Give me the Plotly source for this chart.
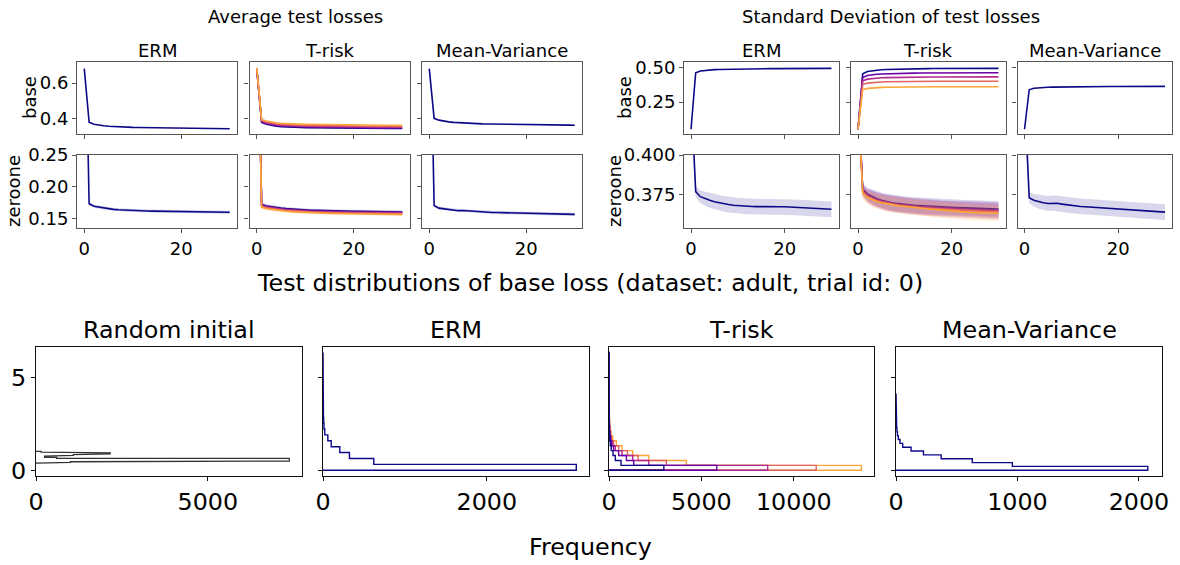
import plotly.graph_objects as go

W, H = 1180, 565
FONT = "DejaVu Sans"
PLASMA = ["#0d0887", "#6a00a8", "#b12a90", "#e16462", "#fca636"]
NAVY = PLASMA[0]

EPOCHS = list(range(31))
METHODS = ["ERM", "T-risk", "Mean-Variance"]

# ---- average test losses ----
ERM_AVG_BASE = [0.682, 0.377, 0.366, 0.360, 0.357, 0.354, 0.352, 0.351, 0.349, 0.348, 0.3475, 0.347, 0.3465, 0.346, 0.3455,
                0.345, 0.3447, 0.3443, 0.344, 0.3437, 0.3433, 0.343, 0.3427, 0.3424, 0.3421, 0.3418, 0.3415, 0.3412, 0.341, 0.3405, 0.340]
MV_AVG_BASE = [0.682, 0.399, 0.389, 0.383, 0.379, 0.376, 0.374, 0.372, 0.3705, 0.3695, 0.3685, 0.3677, 0.367, 0.3664, 0.3658,
               0.3653, 0.3648, 0.3644, 0.364, 0.3636, 0.3632, 0.3628, 0.3625, 0.3622, 0.3619, 0.3616, 0.3613, 0.361, 0.3607, 0.3604, 0.3601]
TR_AVG_BASE = [
    [0.680, 0.376, 0.365, 0.359, 0.355, 0.352, 0.350, 0.349, 0.348, 0.347, 0.3465, 0.346, 0.3455, 0.345, 0.3447, 0.3444,
     0.3441, 0.3438, 0.3435, 0.3432, 0.343, 0.3428, 0.3426, 0.3424, 0.3422, 0.342, 0.3418, 0.3416, 0.3414, 0.3412, 0.341],
    [0.681, 0.380, 0.369, 0.363, 0.359, 0.356, 0.354, 0.353, 0.352, 0.351, 0.3503, 0.3497, 0.3491, 0.3486, 0.3482, 0.3478,
     0.3474, 0.347, 0.3467, 0.3464, 0.3461, 0.3459, 0.3457, 0.3455, 0.3453, 0.3451, 0.3449, 0.3447, 0.3445, 0.3443, 0.3441],
    [0.683, 0.384, 0.373, 0.367, 0.363, 0.360, 0.358, 0.357, 0.356, 0.355, 0.3543, 0.3537, 0.3531, 0.3526, 0.3522, 0.3518,
     0.3514, 0.351, 0.3507, 0.3504, 0.3501, 0.3499, 0.3497, 0.3495, 0.3493, 0.3491, 0.3489, 0.3487, 0.3485, 0.3483, 0.3481],
    [0.685, 0.388, 0.378, 0.372, 0.368, 0.365, 0.363, 0.362, 0.361, 0.360, 0.3593, 0.3587, 0.3581, 0.3576, 0.3572, 0.3568,
     0.3564, 0.356, 0.3557, 0.3554, 0.3551, 0.3549, 0.3547, 0.3545, 0.3543, 0.3541, 0.3539, 0.3537, 0.3535, 0.3533, 0.3531],
    [0.687, 0.393, 0.384, 0.378, 0.374, 0.371, 0.369, 0.368, 0.367, 0.366, 0.3653, 0.3647, 0.3641, 0.3636, 0.3632, 0.3628,
     0.3624, 0.362, 0.3617, 0.3614, 0.3611, 0.3609, 0.3607, 0.3605, 0.3603, 0.3601, 0.3599, 0.3597, 0.3595, 0.3593, 0.3591],
]
ERM_AVG_ZO = [0.56, 0.173, 0.169, 0.1675, 0.166, 0.165, 0.164, 0.1635, 0.163, 0.1625, 0.162, 0.1618, 0.1616, 0.1615, 0.1613,
              0.1612, 0.1611, 0.161, 0.161, 0.1611, 0.1612, 0.161, 0.1608, 0.1605, 0.1603, 0.1601, 0.16, 0.1598, 0.1597, 0.1595, 0.1594]
MV_AVG_ZO = [0.56, 0.170, 0.166, 0.165, 0.164, 0.1625, 0.162, 0.1622, 0.1615, 0.161, 0.1605, 0.16, 0.1595, 0.1592, 0.159,
             0.1588, 0.1585, 0.1582, 0.158, 0.1578, 0.1576, 0.1574, 0.1572, 0.157, 0.157, 0.1568, 0.1566, 0.1565, 0.1565, 0.1563, 0.1562]
TR_AVG_ZO = [
    [0.55, 0.172, 0.1695, 0.168, 0.167, 0.166, 0.1652, 0.1645, 0.164, 0.1635, 0.163, 0.1627, 0.1624, 0.1621, 0.1619, 0.1617,
     0.1615, 0.1613, 0.1612, 0.1611, 0.161, 0.1609, 0.1608, 0.1607, 0.1606, 0.1605, 0.1604, 0.1603, 0.1602, 0.1601, 0.16],
    [0.55, 0.171, 0.1685, 0.167, 0.166, 0.165, 0.1642, 0.1635, 0.163, 0.1625, 0.162, 0.1617, 0.1614, 0.1611, 0.1609, 0.1607,
     0.1605, 0.1603, 0.1602, 0.1601, 0.16, 0.1599, 0.1598, 0.1597, 0.1596, 0.1595, 0.1594, 0.1593, 0.1592, 0.1592, 0.1591],
    [0.55, 0.170, 0.1675, 0.166, 0.165, 0.164, 0.1632, 0.1625, 0.162, 0.1615, 0.161, 0.1607, 0.1604, 0.1601, 0.1599, 0.1597,
     0.1595, 0.1593, 0.1592, 0.1591, 0.159, 0.1589, 0.1588, 0.1587, 0.1586, 0.1585, 0.1584, 0.1583, 0.1582, 0.1582, 0.1581],
    [0.55, 0.169, 0.1665, 0.165, 0.164, 0.163, 0.1622, 0.1615, 0.161, 0.1605, 0.16, 0.1597, 0.1594, 0.1591, 0.1589, 0.1587,
     0.1585, 0.1583, 0.1582, 0.1581, 0.158, 0.1579, 0.1578, 0.1577, 0.1576, 0.1575, 0.1574, 0.1573, 0.1572, 0.1571, 0.157],
    [0.55, 0.167, 0.165, 0.1637, 0.1627, 0.1618, 0.161, 0.1603, 0.1598, 0.1593, 0.1589, 0.1586, 0.1583, 0.158, 0.1578, 0.1576,
     0.1574, 0.1572, 0.157, 0.1569, 0.1568, 0.1567, 0.1566, 0.1565, 0.1564, 0.1563, 0.1562, 0.1561, 0.156, 0.1559, 0.1558],
]
AVG_ZO_BAND = [0.02, 0.0025, 0.0025, 0.0025, 0.0025, 0.0025, 0.0025, 0.0025, 0.0025, 0.0025, 0.0025, 0.0025, 0.0025, 0.0025,
               0.0025, 0.0025, 0.0025, 0.0025, 0.0025, 0.0025, 0.0025, 0.0025, 0.0025, 0.0025, 0.0025, 0.0025, 0.0025, 0.0025,
               0.0025, 0.0025, 0.0025]

# ---- standard deviation of test losses ----
ERM_STD_BASE = [0.05, 0.465, 0.478, 0.483, 0.486, 0.488, 0.489, 0.490, 0.491, 0.492, 0.4925, 0.493, 0.4935, 0.494, 0.4943,
                0.4946, 0.4949, 0.495, 0.4952, 0.4954, 0.4956, 0.4958, 0.496, 0.496, 0.4962, 0.4963, 0.4964, 0.4965, 0.4966, 0.4967, 0.4968]
MV_STD_BASE = [0.05, 0.340, 0.351, 0.355, 0.357, 0.3585, 0.3595, 0.3603, 0.361, 0.3615, 0.362, 0.3624, 0.3627, 0.363, 0.3632,
               0.3634, 0.3636, 0.3638, 0.364, 0.3641, 0.3642, 0.3643, 0.3644, 0.3645, 0.3646, 0.3647, 0.3648, 0.3648, 0.3649, 0.3649, 0.365]
TR_STD_BASE = [
    [0.05, 0.458, 0.474, 0.480, 0.484, 0.487, 0.489, 0.4903, 0.4915, 0.4925, 0.4933, 0.494, 0.4945, 0.495, 0.4953, 0.4956,
     0.4958, 0.496, 0.4962, 0.4963, 0.4964, 0.4965, 0.4966, 0.4967, 0.4968, 0.4969, 0.497, 0.497, 0.4971, 0.4971, 0.4972],
    [0.05, 0.43, 0.445, 0.451, 0.454, 0.456, 0.4575, 0.4587, 0.4597, 0.4605, 0.4612, 0.4618, 0.4623, 0.4627, 0.463, 0.4633,
     0.4635, 0.4637, 0.4639, 0.464, 0.4641, 0.4642, 0.4643, 0.4644, 0.4645, 0.4646, 0.4647, 0.4647, 0.4648, 0.4648, 0.4649],
    [0.05, 0.405, 0.418, 0.423, 0.426, 0.428, 0.4293, 0.4303, 0.4311, 0.4318, 0.4323, 0.4327, 0.4331, 0.4334, 0.4336, 0.4338,
     0.434, 0.4341, 0.4342, 0.4343, 0.4344, 0.4345, 0.4346, 0.4346, 0.4347, 0.4347, 0.4348, 0.4348, 0.4349, 0.4349, 0.435],
    [0.05, 0.378, 0.389, 0.393, 0.396, 0.3975, 0.3985, 0.3993, 0.3999, 0.4004, 0.4008, 0.4011, 0.4014, 0.4016, 0.4018, 0.402,
     0.4021, 0.4022, 0.4023, 0.4024, 0.4025, 0.4025, 0.4026, 0.4026, 0.4027, 0.4027, 0.4028, 0.4028, 0.4028, 0.4029, 0.4029],
    [0.05, 0.34, 0.350, 0.354, 0.3565, 0.3578, 0.3588, 0.3595, 0.36, 0.3604, 0.3607, 0.361, 0.3612, 0.3613, 0.3614, 0.3615,
     0.3616, 0.3617, 0.3618, 0.3618, 0.3619, 0.3619, 0.362, 0.362, 0.362, 0.3621, 0.3621, 0.3621, 0.3622, 0.3622, 0.3622],
]
ERM_STD_ZO = [0.44, 0.3767, 0.3735, 0.3722, 0.3712, 0.3703, 0.3696, 0.369, 0.3685, 0.3681, 0.3678, 0.3676, 0.3674, 0.3673,
              0.3672, 0.3671, 0.3671, 0.3671, 0.3671, 0.3671, 0.3671, 0.3669, 0.3667, 0.3665, 0.3663, 0.3661, 0.3659, 0.3657,
              0.3656, 0.3656, 0.3655]
MV_STD_ZO = [0.44, 0.3728, 0.3712, 0.3703, 0.3697, 0.3692, 0.3694, 0.3693, 0.3688, 0.3683, 0.3679, 0.3676, 0.3673, 0.3671,
             0.3669, 0.3667, 0.3664, 0.3661, 0.3658, 0.3655, 0.3653, 0.3651, 0.365, 0.3649, 0.3647, 0.3646, 0.3645, 0.3643,
             0.3641, 0.3639, 0.3637]
TR_STD_ZO = [
    [0.44, 0.3785, 0.3752, 0.3735, 0.3722, 0.3712, 0.3704, 0.3698, 0.3693, 0.3689, 0.3686, 0.3683, 0.3681, 0.3679, 0.3677,
     0.3675, 0.3673, 0.3671, 0.3669, 0.3668, 0.3667, 0.3666, 0.3665, 0.3664, 0.3663, 0.3662, 0.3661, 0.366, 0.3659, 0.3658, 0.3657],
    [0.44, 0.3778, 0.3746, 0.373, 0.3718, 0.3708, 0.37, 0.3694, 0.3689, 0.3685, 0.3681, 0.3678, 0.3676, 0.3673, 0.3671,
     0.3669, 0.3667, 0.3665, 0.3663, 0.3662, 0.366, 0.3659, 0.3658, 0.3657, 0.3656, 0.3655, 0.3654, 0.3653, 0.3652, 0.3651, 0.365],
    [0.44, 0.377, 0.374, 0.3725, 0.3713, 0.3704, 0.3697, 0.3691, 0.3686, 0.3682, 0.3678, 0.3675, 0.3672, 0.3669, 0.3667,
     0.3664, 0.3662, 0.366, 0.3658, 0.3656, 0.3655, 0.3653, 0.3652, 0.3651, 0.365, 0.3649, 0.3648, 0.3647, 0.3646, 0.3645, 0.3644],
    [0.44, 0.3762, 0.3735, 0.372, 0.3709, 0.37, 0.3693, 0.3688, 0.3683, 0.3679, 0.3675, 0.3672, 0.3669, 0.3666, 0.3663,
     0.3661, 0.3659, 0.3657, 0.3655, 0.3653, 0.3651, 0.3649, 0.3648, 0.3646, 0.3645, 0.3644, 0.3643, 0.3642, 0.3641, 0.364, 0.3639],
    [0.44, 0.3755, 0.373, 0.3715, 0.3705, 0.3697, 0.369, 0.3685, 0.368, 0.3676, 0.3672, 0.3669, 0.3666, 0.3663, 0.366,
     0.3657, 0.3654, 0.3651, 0.3648, 0.3645, 0.3643, 0.3641, 0.3639, 0.3637, 0.3635, 0.3634, 0.3633, 0.3632, 0.3631, 0.363, 0.363],
]
STD_ZO_BAND = [0.02, 0.0035, 0.004, 0.0045, 0.0047, 0.0048, 0.0049, 0.005, 0.005, 0.005, 0.005, 0.005, 0.005, 0.005,
               0.005, 0.005, 0.005, 0.005, 0.005, 0.005, 0.005, 0.005, 0.005, 0.005, 0.005, 0.005, 0.005, 0.005,
               0.005, 0.005, 0.005]

# ---- test distributions of base loss (horizontal step histograms) ----
RANDOM_EDGES = [0.38, 0.42, 0.46, 0.50, 0.645, 0.70, 0.76, 0.80, 0.84, 0.88, 0.94, 0.98, 1.02]
RANDOM_COUNTS = [520, 1000, 2030, 7370, 600, 250, 500, 1085, 1500, 2160, 700, 150]
ERM_EDGES = [0, 0.318, 0.636, 0.954, 1.272, 1.59, 1.908, 2.226, 2.544, 2.862, 3.18, 3.498, 3.816, 4.134, 4.452, 4.77,
             5.088, 5.406, 5.724, 6.042, 6.36]
ERM_COUNTS = [3092, 620, 323, 205, 100, 59, 22, 12, 8, 5, 4, 3, 2, 2, 1, 1, 1, 1, 1, 1]
TR_EDGES = [0, 0.265, 0.53, 0.795, 1.06, 1.325, 1.59, 1.855, 2.12, 2.385, 2.65, 2.915, 3.18, 3.445, 3.71, 3.975, 4.24,
            4.505, 4.77, 5.035, 5.3, 5.565, 5.83, 6.095, 6.36]
TR_COUNTS = [
    [2968, 650, 342, 217, 120, 70, 40, 25, 15, 10, 7, 5, 4, 3, 2, 2, 1, 1, 1, 1, 0, 1, 0, 1],
    [5832, 1338, 940, 522, 250, 130, 75, 45, 28, 18, 12, 8, 6, 4, 3, 2, 2, 1, 1, 1, 1, 0, 1, 1],
    [8587, 2152, 1283, 706, 342, 180, 100, 60, 35, 22, 14, 9, 6, 4, 3, 2, 2, 1, 1, 1, 0, 1, 0, 0],
    [11212, 3098, 1575, 1000, 522, 250, 140, 80, 45, 28, 17, 11, 7, 5, 3, 2, 2, 1, 1, 1, 0, 0, 0, 0],
    [13658, 4185, 2152, 1283, 706, 400, 200, 110, 60, 35, 20, 12, 8, 5, 3, 2, 1, 1, 1, 0, 0, 0, 0, 0],
]
MV_EDGES = [0, 0.207, 0.414, 0.621, 0.828, 1.035, 1.242, 1.449, 1.656, 1.863, 2.07, 2.277, 2.484, 2.691, 2.898, 3.105,
            3.312, 3.519, 3.726, 3.933, 4.14]
MV_COUNTS = [2073, 958, 628, 372, 226, 124, 55, 33, 19, 12, 8, 5, 4, 3, 2, 1, 1, 1, 1, 1]

fig = go.Figure()


def rgba(hex_color, a):
    h = hex_color.lstrip("#")
    return f"rgba({int(h[0:2], 16)},{int(h[2:4], 16)},{int(h[4:6], 16)},{a})"


def refs(i):
    return ("x" if i == 1 else f"x{i}"), ("y" if i == 1 else f"y{i}")


def add_curve(i, mean, color, band=None):
    xr, yr = refs(i)
    if band is not None:
        upper = [m + b for m, b in zip(mean, band)]
        lower = [m - b for m, b in zip(mean, band)]
        fig.add_trace(go.Scatter(x=EPOCHS + EPOCHS[::-1], y=upper + lower[::-1], fill="toself",
                                 fillcolor=rgba(color, 0.16), line=dict(width=0), mode="lines",
                                 xaxis=xr, yaxis=yr, hoverinfo="skip", showlegend=False))
    fig.add_trace(go.Scatter(x=EPOCHS, y=mean, mode="lines", line=dict(color=color, width=1.6),
                             xaxis=xr, yaxis=yr, showlegend=False))


def add_step_hist(i, edges, counts, color, width=1.4, opacity=1.0):
    xr, yr = refs(i)
    xs, ys = [0], [edges[0]]
    for k, cnt in enumerate(counts):
        xs += [cnt, cnt]
        ys += [edges[k], edges[k + 1]]
    xs.append(0)
    ys.append(edges[-1])
    fig.add_trace(go.Scatter(x=xs, y=ys, mode="lines", line=dict(color=color, width=width), opacity=opacity,
                             xaxis=xr, yaxis=yr, showlegend=False))


# top blocks: index = block*3 + col + 1
panels = [
    (ERM_AVG_BASE, TR_AVG_BASE, MV_AVG_BASE, None),
    (ERM_AVG_ZO, TR_AVG_ZO, MV_AVG_ZO, AVG_ZO_BAND),
    (ERM_STD_BASE, TR_STD_BASE, MV_STD_BASE, None),
    (ERM_STD_ZO, TR_STD_ZO, MV_STD_ZO, STD_ZO_BAND),
]
for p, (erm, tr, mv, band) in enumerate(panels):
    base = p * 3 + 1
    add_curve(base, erm, NAVY, band)
    for s, col in zip(tr, PLASMA):
        add_curve(base + 1, s, col, band)
    add_curve(base + 2, mv, NAVY, band)

add_step_hist(13, RANDOM_EDGES, RANDOM_COUNTS, "black", 1.3, 0.8)
add_step_hist(14, ERM_EDGES, ERM_COUNTS, NAVY)
for cnts, col in reversed(list(zip(TR_COUNTS, PLASMA))):
    add_step_hist(15, TR_EDGES, cnts, col)
add_step_hist(16, MV_EDGES, MV_COUNTS, NAVY)

# ---- axes layout (pixel boxes) ----
TOP_COLS_L = [(77, 237), (249.5, 409.5), (422, 582)]
TOP_COLS_R = [(684, 838.5), (851, 1005.5), (1017.5, 1172)]
TOP_ROWS = [(62, 134), (155, 228)]
BOT_COLS = [(36, 302), (323, 589), (609, 874), (896, 1162)]
BOT_ROW = (347, 476)

TOP_YR = [
    dict(range=[0.31, 0.72], tickvals=[0.4, 0.6], ticktext=["0.4", "0.6"]),
    dict(range=[0.1346, 0.25], tickvals=[0.15, 0.2, 0.25], ticktext=["0.15", "0.20", "0.25"]),
    dict(range=[0.015, 0.544], tickvals=[0.25, 0.5], ticktext=["0.25", "0.50"]),
    dict(range=[0.3536, 0.4], tickvals=[0.375, 0.4], ticktext=["0.375", "0.400"]),
]
BOT_XR = [
    dict(range=[0, 7740], tickvals=[0, 5000], ticktext=["0", "5000"]),
    dict(range=[0, 3247], tickvals=[0, 2000], ticktext=["0", "2000"]),
    dict(range=[0, 14340], tickvals=[0, 5000, 10000], ticktext=["0", "5000", "10000"]),
    dict(range=[0, 2190], tickvals=[0, 1000, 2000], ticktext=["0", "1000", "2000"]),
]

TOP_FS = 18
BOT_FS = 23.8
axes = {}


def axis_style(color, fs):
    return dict(showline=True, mirror=True, linecolor=color, linewidth=1.1, ticks="outside", ticklen=4,
                tickwidth=1, tickcolor=color, showgrid=False, zeroline=False, automargin=False,
                tickfont=dict(family=FONT, size=fs, color="black"))


for p in range(4):
    cols = TOP_COLS_L if p < 2 else TOP_COLS_R
    row = TOP_ROWS[p % 2]
    for c in range(3):
        i = p * 3 + c + 1
        xa = axis_style("#555555", TOP_FS)
        xa.update(domain=[cols[c][0] / W, cols[c][1] / W], range=[-1.5, 31.5], tickvals=[0, 20],
                  ticktext=["0", "20"], showticklabels=(p % 2 == 1), anchor=refs(i)[1])
        ya = axis_style("#555555", TOP_FS)
        ya.update(domain=[1 - row[1] / H, 1 - row[0] / H], showticklabels=(c == 0), anchor=refs(i)[0], **TOP_YR[p])
        axes["xaxis" if i == 1 else f"xaxis{i}"] = xa
        axes["yaxis" if i == 1 else f"yaxis{i}"] = ya

for c in range(4):
    i = 13 + c
    xa = axis_style("#111111", BOT_FS)
    xa.update(domain=[BOT_COLS[c][0] / W, BOT_COLS[c][1] / W], anchor=refs(i)[1], **BOT_XR[c])
    ya = axis_style("#111111", BOT_FS)
    ya.update(domain=[1 - BOT_ROW[1] / H, 1 - BOT_ROW[0] / H], range=[-0.31, 6.65], tickvals=[0, 5],
              ticktext=["0", "5"], showticklabels=(c == 0), anchor=refs(i)[0])
    axes[f"xaxis{i}"] = xa
    axes[f"yaxis{i}"] = ya

fig.update_layout(width=W, height=H, margin=dict(l=0, r=0, t=0, b=0, autoexpand=False), paper_bgcolor="white",
                  plot_bgcolor="white", showlegend=False, **axes)


def note(text, x, y, size, angle=0):
    fig.add_annotation(text=text, x=x / W, y=1 - y / H, xref="paper", yref="paper", showarrow=False,
                       font=dict(family=FONT, size=size, color="black"), textangle=angle,
                       xanchor="center", yanchor="middle")


note("Average test losses", 295, 17, 18)
note("Standard Deviation of test losses", 891, 17, 18)
for cols in (TOP_COLS_L, TOP_COLS_R):
    for (a, b), name in zip(cols, METHODS):
        note(name, (a + b) / 2, 50, TOP_FS)
note("base", 29, 98, TOP_FS, -90)
note("zeroone", 13, 191, TOP_FS, -90)
note("base", 624, 98, TOP_FS, -90)
note("zeroone", 614, 191, TOP_FS, -90)

note("Test distributions of base loss (dataset: adult, trial id: 0)", 590, 283, BOT_FS)
for (a, b), name in zip(BOT_COLS, ["Random initial", "ERM", "T-risk", "Mean-Variance"]):
    note(name, (a + b) / 2, 330, BOT_FS)
note("Frequency", 590, 547, BOT_FS)

# the page body has a default margin; drop it so the figure sits at the window origin
fig.write_html("out.html", config={"displayModeBar": False},
               post_script="document.body.style.margin='0px';")
